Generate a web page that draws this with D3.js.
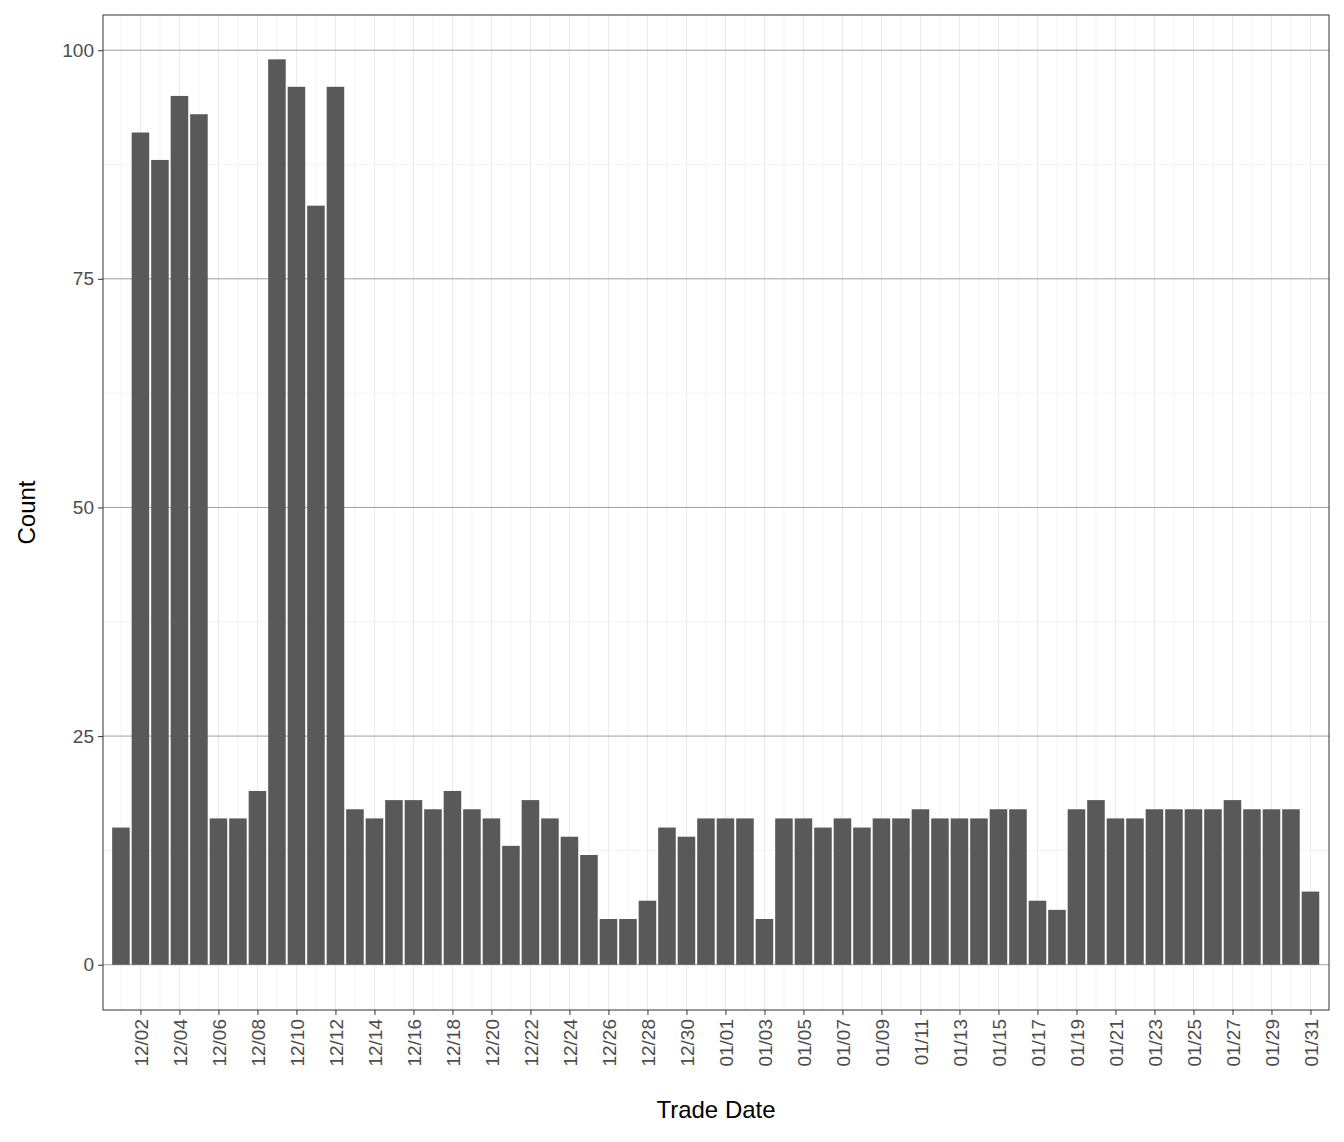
<!DOCTYPE html>
<html><head><meta charset="utf-8">
<script src="https://cdn.jsdelivr.net/npm/d3@7"></script>
<style>body{margin:0;background:#fff;font-family:"Liberation Sans",Arial,sans-serif}</style>
</head><body><div id="chart"></div>
<script>
// one bar per day, 12/01 .. 01/31
const startDate = "2019-12-01";
const counts = [15, 91, 88, 95, 93, 16, 16, 19, 99, 96, 83, 96, 17, 16, 18, 18, 17, 19, 17, 16,
  13, 18, 16, 14, 12, 5, 5, 7, 15, 14, 16,
  16, 16, 5, 16, 16, 15, 16, 15, 16, 16, 17, 16, 16, 16, 17, 17, 7, 6, 17, 18,
  16, 16, 17, 17, 17, 17, 18, 17, 17, 17, 8];
const yTicks = [0, 25, 50, 75, 100];
const yMinor = [12.5, 37.5, 62.5, 87.5];

const DAY = 864e5;
const t0 = new Date(startDate + "T00:00:00Z");
const data = counts.map((v, i) => ({ date: new Date(+t0 + i * DAY), value: v }));

const W = 1344, H = 1142;
const pL = 103, pR = 1329, pT = 15, pB = 1010;

const svg = d3.select("#chart").append("svg").attr("width", W).attr("height", H);

const x = d3.scaleUtc()
  .domain([new Date(+t0 - 0.92 * DAY), new Date(+data[data.length - 1].date + 0.95 * DAY)])
  .range([pL, pR]);
const y = d3.scaleLinear().domain([-4.95, 103.85]).range([pB, pT]);
const bw = 0.9 * (x(new Date(+t0 + DAY)) - x(t0));

// vertical grid, every day
svg.append("g").selectAll("line").data(data).join("line")
  .attr("x1", d => x(d.date)).attr("x2", d => x(d.date))
  .attr("y1", pT).attr("y2", pB)
  .attr("stroke", "#ebebeb").attr("stroke-width", (d, i) => (i % 2 ? 1.1 : 0.6));

svg.append("g").selectAll("line").data(yMinor).join("line")
  .attr("x1", pL).attr("x2", pR).attr("y1", y).attr("y2", y)
  .attr("stroke", "#ebebeb").attr("stroke-width", 0.6);
svg.append("g").selectAll("line").data(yTicks).join("line")
  .attr("x1", pL).attr("x2", pR).attr("y1", y).attr("y2", y)
  .attr("stroke", "#888").attr("stroke-width", 0.8);

svg.append("g").selectAll("rect").data(data).join("rect")
  .attr("x", d => x(d.date) - bw / 2).attr("width", bw)
  .attr("y", d => y(d.value)).attr("height", d => y(0) - y(d.value))
  .attr("fill", "#595959");

svg.append("rect").attr("x", pL).attr("y", pT).attr("width", pR - pL).attr("height", pB - pT)
  .attr("fill", "none").attr("stroke", "#333").attr("stroke-width", 1);

// y axis
const yAxis = svg.append("g").attr("transform", `translate(${pL},0)`)
  .call(d3.axisLeft(y).tickValues(yTicks).tickSize(5).tickPadding(4));
yAxis.select(".domain").remove();
yAxis.selectAll("line").attr("stroke", "#333");
yAxis.selectAll("text").attr("fill", "#4d4d4d").style("font-size", "19px");

// x axis, every second day
const xTicks = data.filter((d, i) => i % 2 === 1).map(d => d.date);
const xAxis = svg.append("g").attr("transform", `translate(0,${pB})`)
  .call(d3.axisBottom(x).tickValues(xTicks).tickFormat(d3.utcFormat("%m/%d")).tickSize(5));
xAxis.select(".domain").remove();
xAxis.selectAll("line").attr("stroke", "#333");
xAxis.selectAll("text")
  .attr("transform", "rotate(-90)")
  .attr("text-anchor", "end").attr("x", -9).attr("y", 0).attr("dy", "0.36em")
  .attr("fill", "#4d4d4d").style("font-size", "19px");

svg.append("text").attr("x", (pL + pR) / 2).attr("y", 1118).attr("text-anchor", "middle")
  .style("font-size", "24px").attr("fill", "#000").text("Trade Date");
svg.append("text").attr("transform", `translate(35,${(pT + pB) / 2}) rotate(-90)`)
  .attr("text-anchor", "middle").style("font-size", "24px").attr("fill", "#000").text("Count");
</script></body></html>
